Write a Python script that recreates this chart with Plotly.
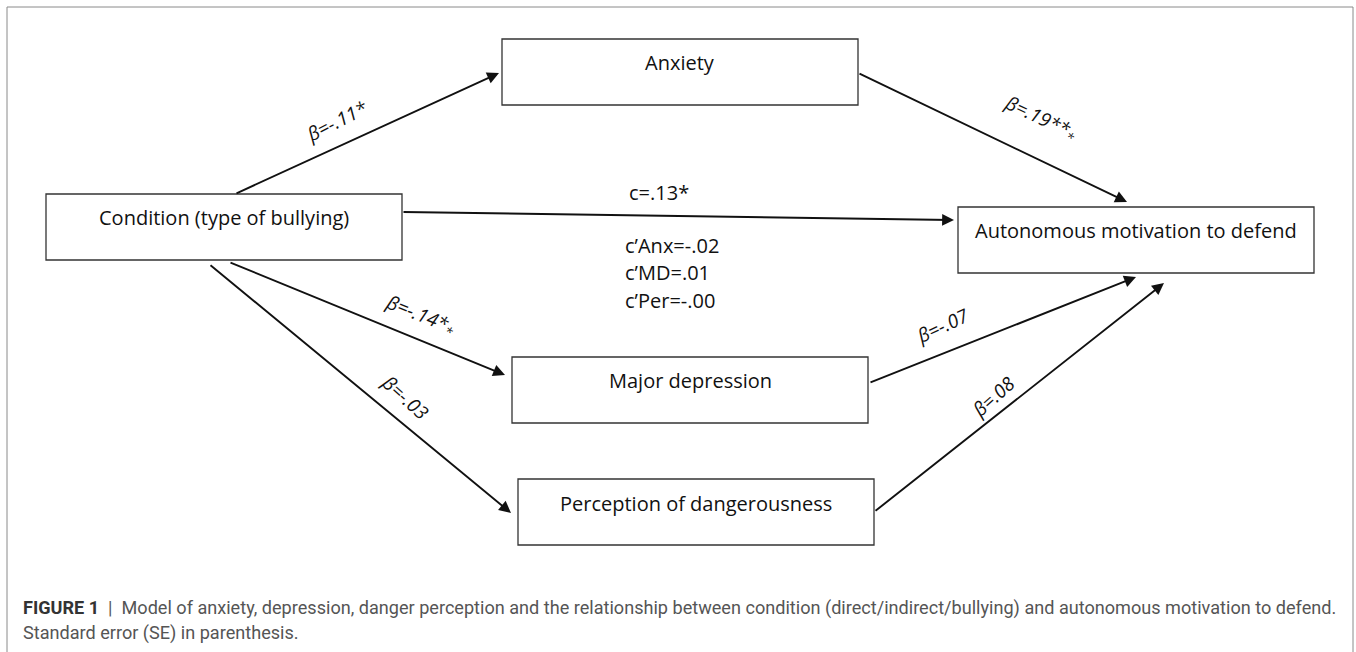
import plotly.graph_objects as go

# ---- data (diagram content) ----
node_names = ["Condition (type of bullying)", "Anxiety", "Major depression",
              "Perception of dangerousness", "Autonomous motivation to defend"]
edge_from = [0, 1, 0, 2, 0, 3, 0]
edge_to = [1, 4, 2, 4, 3, 4, 4]
edge_labels = ["β=-.11*", "β=.19**<sub>*</sub>", "β=-.14*<sub>*</sub>", "β=-.07",
               "β=-.03", "β=.08", ""]
direct_label = "c=.13*"
indirect_labels = ["c’Anx=-.02", "c’MD=.01", "c’Per=-.00"]
caption_head = "FIGURE 1"
caption_text = ("Model of anxiety, depression, danger perception and the relationship between "
                "condition (direct/indirect/bullying) and autonomous motivation to defend.")
caption_line2 = "Standard error (SE) in parenthesis."

# ---- geometry (pixel layout) ----
W, H = 1356, 652
boxes = {  # x0, y0, x1, y1, text y
    0: (46, 194, 402, 260, 217),
    1: (502, 39, 858, 105, 62),
    2: (512, 357, 868, 423, 380),
    3: (518, 479, 874, 545, 503),
    4: (958, 207, 1314, 273, 230),
}
# tail (x, y), tip (x, y), label pos (x, y), label angle
edges_geo = [
    ((235, 194), (499, 73), (337, 121), -27),
    ((858, 73), (1127, 202), (1040, 118), 25),
    ((229, 262), (505, 375), (420, 315), 22),
    ((869, 383), (1136, 277), (942, 326), -25),
    ((209, 264), (511, 513), (405, 397), 42),
    ((874, 512), (1164, 283), (993, 397), -42),
    ((402, 212), (954, 220), None, 0),
]

FONT = "Open Sans, Lato, sans-serif"
node_font = dict(family=FONT, size=20, color="#111111")
label_font = dict(family=FONT, size=19, color="#111111")
cap_font = dict(family="Roboto, Liberation Sans, sans-serif", size=18.1, color="#555555")

fig = go.Figure()
cx = [(b[0] + b[2]) / 2 for b in boxes.values()]
cy = [(b[1] + b[3]) / 2 for b in boxes.values()]
fig.add_trace(go.Scatter(x=cx, y=cy, mode="markers", marker=dict(opacity=0),
                         hoverinfo="skip", showlegend=False))

shapes = [dict(type="rect", x0=7, y0=7, x1=1353, y1=H + 10,
               line=dict(color="#8a8a8a", width=1), xref="x", yref="y")]
annotations = []
for i, name in enumerate(node_names):
    x0, y0, x1, y1, ty = boxes[i]
    shapes.append(dict(type="rect", x0=x0, y0=y0, x1=x1, y1=y1,
                       line=dict(color="#333333", width=1.3), fillcolor="white"))
    annotations.append(dict(x=(x0 + x1) / 2, y=ty, text=name, showarrow=False,
                            font=node_font, xanchor="center", yanchor="middle"))

for k in range(len(edge_from)):
    (tx, ty), (hx, hy), lab, ang = edges_geo[k]
    annotations.append(dict(x=hx, y=hy, ax=tx, ay=ty, xref="x", yref="y",
                            axref="x", ayref="y", text="", showarrow=True,
                            arrowhead=2, arrowsize=1.25, arrowwidth=1.9,
                            arrowcolor="#111111", standoff=0))
    if lab is not None and edge_labels[k]:
        annotations.append(dict(x=lab[0], y=lab[1], text="<i>" + edge_labels[k] + "</i>",
                                showarrow=False, textangle=ang, font=label_font))

annotations.append(dict(x=627, y=192, text=direct_label, showarrow=False,
                        xanchor="left", yanchor="middle", font=node_font))
for j, t in enumerate(indirect_labels):
    annotations.append(dict(x=623, y=245 + 27.5 * j, text=t, showarrow=False,
                            xanchor="left", yanchor="middle", font=node_font))

annotations.append(dict(x=21, y=608, xanchor="left", yanchor="middle", showarrow=False,
                        text=("<b><span style='color:#333333'>" + caption_head +
                              "</span></b>  |  " + caption_text),
                        font=cap_font))
annotations.append(dict(x=21, y=633, xanchor="left", yanchor="middle", showarrow=False,
                        text=caption_line2, font=cap_font))

fig.update_layout(
    width=W, height=H, margin=dict(l=0, r=0, t=0, b=0),
    paper_bgcolor="white", plot_bgcolor="white",
    xaxis=dict(range=[0, W], visible=False, fixedrange=True),
    yaxis=dict(range=[H, 0], visible=False, fixedrange=True),
    shapes=shapes, annotations=annotations, showlegend=False,
)
fig.write_html("out.html", config={"displayModeBar": False},
               post_script="document.body.style.margin='0';")
